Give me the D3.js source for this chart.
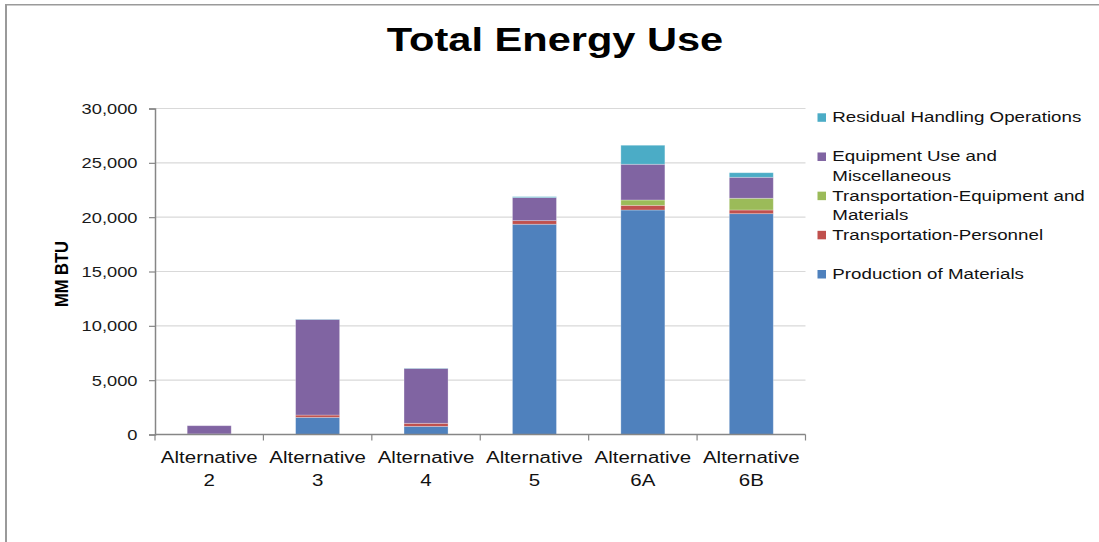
<!DOCTYPE html>
<html><head><meta charset="utf-8">
<script src="https://cdn.jsdelivr.net/npm/d3@7"></script>
<style>
html,body{margin:0;padding:0;background:#fff;}
svg{display:block;font-family:"Liberation Sans",Arial,sans-serif;}
</style></head>
<body>
<svg id="chart" width="1099" height="542"></svg>
<script>
// ---- data ----
const title = "Total Energy Use";
const yAxisTitle = "MM BTU";
const catLine1 = ["Alternative","Alternative","Alternative","Alternative","Alternative","Alternative"];
const catLine2 = ["2","3","4","5","6A","6B"];
const yTicks = [0, 5000, 10000, 15000, 20000, 25000, 30000];

const seriesNames = ["Production of Materials","Transportation-Personnel","Transportation-Equipment and Materials","Equipment Use and Miscellaneous","Residual Handling Operations"];
const production   = [30, 1580, 750, 19350, 20660, 20320];
const transPerson  = [20, 210, 280, 330, 430, 340];
const transEquip   = [0, 0, 0, 0, 490, 1080];
const equipUse     = [760, 8800, 5050, 2120, 3290, 1930];
const residual     = [0, 30, 30, 90, 1750, 420];
const seriesColors = ["#4F81BD","#C0504D","#9BBB59","#8064A2","#4BACC6"];
// legend text lines (wrapped as in the original)
const legendLines = [["Production of Materials"],["Transportation-Personnel"],["Transportation-Equipment and","Materials"],["Equipment Use and","Miscellaneous"],["Residual Handling Operations"]];

// ---- build ----
const seriesValues = [production, transPerson, transEquip, equipUse, residual];
const cats = catLine2.map((d,i)=>catLine1[i]+" "+d);
const rows = cats.map((c,i)=>{const r={cat:c}; seriesNames.forEach((s,j)=>r[s]=seriesValues[j][i]); return r;});

const svg = d3.select("#chart");
const FONT = "'Liberation Sans', Arial, sans-serif";

// frame
svg.append("rect").attr("x",5).attr("y",4).attr("width",2).attr("height",538).attr("fill","#9a9a9a");
svg.append("rect").attr("x",5).attr("y",4).attr("width",1094).attr("height",1.5).attr("fill","#9a9a9a");

const plot = {left:155, right:805.5, top:108.5, bottom:434.5};
const x = d3.scaleBand().domain(cats).range([plot.left, plot.right]).paddingInner(0.594).paddingOuter(0.297);
const y = d3.scaleLinear().domain([0,30000]).range([plot.bottom, plot.top]);

// gridlines
svg.append("g").selectAll("line").data(yTicks.filter(d=>d>0)).join("line")
  .attr("x1",plot.left).attr("x2",plot.right)
  .attr("y1",d=>y(d)).attr("y2",d=>y(d))
  .attr("stroke","#d9d9d9").attr("stroke-width",1.2);

// stacked bars
const stack = d3.stack().keys(seriesNames)(rows);
svg.append("g").selectAll("g").data(stack).join("g")
  .attr("fill",(d,i)=>seriesColors[i])
  .selectAll("rect").data(d=>d).join("rect")
  .attr("x",d=>x(d.data.cat)).attr("width",x.bandwidth())
  .attr("y",d=>y(d[1])).attr("height",d=>Math.max(0,y(d[0])-y(d[1])))
  .attr("stroke","#ffffff").attr("stroke-opacity",0.35).attr("stroke-width",0.8);

// y axis
const yAxis = svg.append("g").attr("transform",`translate(${plot.left},0)`)
  .call(d3.axisLeft(y).tickValues(yTicks).tickSize(6).tickPadding(0).tickFormat(d3.format(",")));
yAxis.select(".domain").attr("stroke","#868686").attr("stroke-width",1.5);
yAxis.selectAll(".tick line").attr("stroke","#868686").attr("stroke-width",1.2);
yAxis.selectAll(".tick text").attr("x",0).attr("dy","0.34em")
  .attr("transform","translate(-17.5,0) scale(1.22,1)")
  .attr("font-family",FONT).attr("font-size",15).attr("fill","#1a1a1a").attr("text-anchor","end");

// x axis
const xg = svg.append("g");
xg.append("line").attr("x1",plot.left).attr("x2",plot.right).attr("y1",plot.bottom).attr("y2",plot.bottom)
  .attr("stroke","#868686").attr("stroke-width",1.5);
const bounds = d3.range(cats.length+1).map(i=>plot.left + i*x.step());
xg.selectAll("line.t").data(bounds).join("line").attr("class","t")
  .attr("x1",d=>d).attr("x2",d=>d).attr("y1",plot.bottom).attr("y2",plot.bottom+6)
  .attr("stroke","#868686").attr("stroke-width",1.2);
const xl = xg.selectAll("g.lab").data(cats).join("g").attr("class","lab");
xl.append("text").attr("transform",(d)=>`translate(${x(d)+x.bandwidth()/2},463) scale(1.28,1)`)
  .attr("text-anchor","middle").attr("font-family",FONT).attr("font-size",16).attr("fill","#111")
  .text((d,i)=>catLine1[i]);
xl.append("text").attr("transform",(d)=>`translate(${x(d)+x.bandwidth()/2},486) scale(1.28,1)`)
  .attr("text-anchor","middle").attr("font-family",FONT).attr("font-size",16).attr("fill","#111")
  .text((d,i)=>catLine2[i]);

// y title
svg.append("text").attr("transform","translate(61.5,274) scale(1.13,1) rotate(-90)")
  .attr("text-anchor","middle").attr("dy","0.36em")
  .attr("font-family",FONT).attr("font-size",16.5).attr("font-weight","bold").attr("fill","#000")
  .text(yAxisTitle);

// title
svg.append("text").attr("transform","translate(555,51) scale(1.26,1)")
  .attr("text-anchor","middle").attr("font-family",FONT).attr("font-size",33).attr("font-weight","bold").attr("fill","#000")
  .text(title);

// legend (reverse order, top = last series)
const legOrder = d3.range(seriesNames.length).reverse();
const ly = d3.scaleLinear().domain([0,seriesNames.length-1]).range([117.5,274.2]);
const lg = svg.append("g").selectAll("g").data(legOrder).join("g")
  .attr("transform",(d,i)=>`translate(817.5,${ly(i)})`);
lg.append("rect").attr("x",0).attr("y",-4.2).attr("width",8.5).attr("height",8.5).attr("fill",d=>seriesColors[d]);
lg.each(function(d){
  const g = d3.select(this);
  legendLines[d].forEach((ln,k)=>{
    g.append("text").attr("transform",`translate(14.8,${4.8+k*19.3}) scale(1.25,1)`)
      .attr("font-family",FONT).attr("font-size",15).attr("fill","#111").text(ln);
  });
});
</script>
</body></html>
